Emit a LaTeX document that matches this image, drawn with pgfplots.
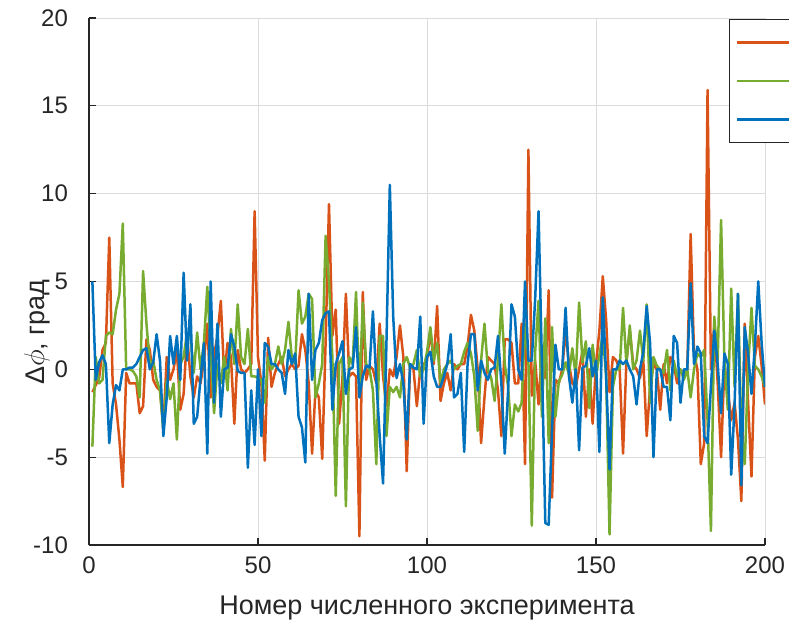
\documentclass[border=0pt]{standalone}
\usepackage{fontspec}
\setmainfont{Liberation Sans}
\usepackage{pgfplots}
\usepackage{pgfplotstable}
\pgfplotsset{compat=1.18}

\definecolor{mgray}{RGB}{38,38,38}
\definecolor{mOrange}{HTML}{D95319}
\definecolor{mGreen}{HTML}{77AC30}
\definecolor{mBlue}{HTML}{0072BD}

% x: experiment number, o/g/b: three series
\pgfplotstableread{
x o g b
1 -1.3 -4.4 5.0
2 -0.9 0.7 -0.6
3 -0.5 -0.8 0.4
4 1.1 -0.6 0.8
5 1.5 1.9 0.3
6 7.5 2.1 -4.2
7 -0.8 2.0 -2.0
8 -2.0 3.4 -0.9
9 -4.0 4.3 -1.2
10 -6.7 8.3 0.0
11 -0.2 0.0 0.0
12 -0.8 0.0 0.1
13 -0.8 -0.1 0.1
14 -0.8 -0.4 0.3
15 -2.5 -1.6 0.7
16 -2.1 5.6 1.1
17 1.7 2.6 1.2
18 1.1 0.3 0.0
19 -0.6 0.5 0.4
20 -1.0 -0.6 2.0
21 -1.2 -1.2 0.5
22 -3.3 -3.5 -3.8
23 0.7 -0.6 -1.6
24 -0.6 -1.7 1.9
25 0.0 -0.8 0.3
26 1.1 -4.0 1.9
27 -2.3 0.3 -0.6
28 -1.4 0.7 5.5
29 2.0 2.1 0.5
30 -0.4 2.0 3.7
31 -1.6 -0.2 -3.1
32 -0.4 2.1 -2.7
33 -0.8 0.0 -0.5
34 0.5 1.5 1.5
35 2.6 4.7 -4.8
36 -1.6 1.0 5.0
37 0.8 -2.5 -1.9
38 1.9 0.3 2.6
39 3.9 -0.8 -2.7
40 -0.4 0.7 0.0
41 1.5 -1.2 0.1
42 0.7 2.3 2.0
43 -3.1 0.3 1.3
44 1.1 3.7 -0.1
45 0.0 0.7 -0.2
46 -0.2 0.3 -0.2
47 0.0 2.3 -5.6
48 0.3 -0.4 -1.2
49 9.0 -0.4 -4.3
50 0.7 -0.5 0.0
51 -0.8 -0.6 -3.8
52 -5.2 -1.9 1.5
53 1.8 0.7 1.3
54 -1.0 0.0 0.3
55 -0.2 0.3 0.3
56 0.3 1.3 0.0
57 0.7 0.3 -0.2
58 -0.4 1.1 -1.4
59 0.0 2.7 1.1
60 0.3 0.7 0.3
61 0.0 0.3 0.9
62 0.2 4.5 -2.7
63 2.0 2.6 -3.3
64 1.1 3.0 -5.3
65 -0.8 4.3 4.3
66 -4.8 4.0 -0.6
67 -1.2 -1.6 1.1
68 -1.6 -0.8 1.5
69 -5.1 0.3 2.8
70 1.5 7.6 3.2
71 9.4 5.0 3.3
72 1.9 0.7 -2.3
73 3.4 -7.2 0.3
74 -3.1 0.3 0.9
75 -0.4 0.7 1.6
76 4.3 -7.8 -1.4
77 -0.4 0.7 0.0
78 -0.2 0.3 0.1
79 -0.4 4.4 2.4
80 -9.5 -1.5 -1.6
81 4.4 3.8 -0.4
82 -0.6 0.3 0.2
83 0.2 0.0 0.1
84 0.0 -1.2 3.3
85 -0.8 -5.4 -0.6
86 2.6 1.9 -3.8
87 -0.4 1.9 -6.5
88 -2.1 -3.8 1.5
89 0.0 -1.0 10.5
90 -0.4 -1.3 3.0
91 0.7 -1.0 -0.5
92 2.5 -1.6 0.3
93 0.7 0.3 -0.8
94 -5.8 0.7 -4.0
95 0.3 0.1 0.3
96 0.0 0.3 0.1
97 -2.1 1.1 0.0
98 0.0 -0.4 3.0
99 0.3 0.0 -3.1
100 0.5 1.0 0.7
101 2.2 2.4 1.0
102 0.3 0.5 -0.4
103 3.6 1.5 -1.0
104 -1.8 -0.8 -1.0
105 -0.8 0.0 -0.4
106 -0.2 0.3 0.3
107 -1.2 0.5 2.0
108 0.3 0.0 -1.6
109 0.0 0.2 -1.4
110 0.3 0.3 -0.2
111 0.3 1.0 -4.7
112 1.3 1.5 0.3
113 3.1 0.9 2.0
114 2.2 -0.4 2.0
115 0.0 -3.5 -1.2
116 -4.2 0.5 0.5
117 -1.6 2.6 -0.2
118 0.7 0.0 -0.6
119 0.5 -0.5 0.0
120 0.3 -1.8 0.1
121 -1.2 0.5 1.9
122 -3.8 3.7 -0.8
123 1.7 0.3 -4.8
124 1.7 -1.0 -1.2
125 1.5 -3.8 3.7
126 -0.8 -2.0 3.0
127 -0.8 -2.4 0.0
128 2.6 -1.9 -0.6
129 -5.4 2.6 5.0
130 12.5 0.5 0.5
131 -1.5 -8.9 0.5
132 0.5 1.0 4.0
133 -2.0 3.9 9.0
134 1.0 -2.7 0.3
135 -0.5 2.9 -8.75
136 4.5 -4.2 -8.85
137 -7.3 2.4 -3.4
138 -0.6 -2.7 1.4
139 -0.8 -0.7 0.0
140 0.0 -0.3 0.0
141 2.2 0.4 3.5
142 0.3 -0.3 -0.4
143 -0.8 1.2 -1.9
144 -1.0 -0.4 0.0
145 0.0 3.8 -4.6
146 1.0 0.4 0.1
147 -2.7 1.6 0.2
148 0.0 -2.2 1.2
149 -3.1 1.4 -0.4
150 0.3 -0.4 0.5
151 2.2 0.8 -4.7
152 5.3 2.0 4.1
153 2.8 -0.4 -0.4
154 -1.3 -9.4 -5.7
155 0.7 -1.0 0.0
156 0.5 0.0 0.0
157 0.0 0.0 0.5
158 -4.8 3.5 0.3
159 0.5 0.3 0.5
160 2.2 2.5 0.0
161 0.3 0.0 -0.4
162 0.0 0.5 -2.0
163 -0.5 2.2 0.0
164 0.5 0.5 1.0
165 -3.8 3.7 3.6
166 -1.0 -1.9 1.5
167 0.3 0.7 -5.0
168 0.0 0.2 0.0
169 -2.3 0.0 0.0
170 0.3 -0.2 -1.0
171 -0.8 1.1 -1.0
172 0.7 -1.2 -2.9
173 0.3 0.5 1.9
174 -0.8 -0.4 1.5
175 0.0 0.0 -1.9
176 -0.4 -0.6 0.0
177 0.0 0.0 0.0
178 7.7 -1.6 4.9
179 0.9 0.0 0.3
180 0.0 0.9 1.3
181 -5.4 0.7 0.9
182 -4.2 1.1 -3.8
183 15.9 -2.9 -4.2
184 0.0 -9.2 -1.0
185 2.6 3.0 2.2
186 -0.8 0.5 0.3
187 -5.0 8.5 -2.5
188 0.3 0.5 0.9
189 -1.2 -2.3 0.3
190 -2.9 4.6 -6.0
191 -1.9 -1.0 -2.0
192 -4.0 4.3 4.3
193 -7.5 -3.6 -6.6
194 2.6 -5.4 2.4
195 -1.9 0.0 0.9
196 -6.1 3.5 -1.4
197 0.7 0.2 1.3
198 1.9 0.0 5.0
199 0.2 -0.4 1.5
200 -2.0 -1.0 -1.0
}\data

\begin{document}
\begin{tikzpicture}
\begin{axis}[
    name=ax,
    scale only axis,
    width=338pt, height=263.5pt,
    xmin=0, xmax=200, ymin=-10, ymax=20,
    axis x line*=bottom, axis y line*=left,
    axis line style={draw=mgray, line width=0.6pt},
    tick align=inside, major tick length=3.5pt,
    tick style={draw=mgray, line width=0.6pt},
    xtick={0,50,100,150,200}, ytick={-10,-5,0,5,10,15,20},
    xticklabels={0,50,100,150,200},
    yticklabels={-10,-5,0,5,10,15,20},
    ticklabel style={font=\fontsize{12}{14}\selectfont, text=mgray},
    xticklabel style={yshift=-2.25pt},
    yticklabel style={xshift=-7pt},
    grid=major,
    major grid style={draw=black!14, line width=0.45pt},
    xlabel={Номер численного эксперимента},
    ylabel={Δ$\phi$, град},
    label style={font=\fontsize{13.5}{16}\selectfont, text=mgray},
    xlabel style={at={(axis description cs:0.5,-0.1328)}, anchor=base},
    ylabel style={at={(axis description cs:-0.0769,0.404)}, anchor=center},
    legend image code/.code={\draw[#1] (0pt,0pt) -- (30pt,0pt);},
    legend style={at={(axis description cs:0.9467,0.998)}, anchor=north west,
        draw=mgray, line width=0.6pt, fill=white,
        inner xsep=3pt, inner ysep=1.75pt, row sep=0pt,
        nodes={inner sep=0pt, text depth=, text height=},
        cells={anchor=west}},
]
\addplot[color=mOrange, line width=1.25pt, line join=round] table[x=x, y=o] {\data};
\addlegendentry{\raisebox{0pt}[9.65pt][9.65pt]{\hspace*{60pt}}}
\addplot[color=mGreen, line width=1.25pt, line join=round] table[x=x, y=g] {\data};
\addlegendentry{\raisebox{0pt}[9.65pt][9.65pt]{\hspace*{60pt}}}
\addplot[color=mBlue, line width=1.25pt, line join=round] table[x=x, y=b] {\data};
\addlegendentry{\raisebox{0pt}[9.65pt][9.65pt]{\hspace*{60pt}}}
\end{axis}
\pgfresetboundingbox
\path[use as bounding box] ([xshift=-44.5pt,yshift=-39.5pt]ax.south west) rectangle ([xshift=12pt,yshift=9pt]ax.north east);
\end{tikzpicture}
\end{document}
